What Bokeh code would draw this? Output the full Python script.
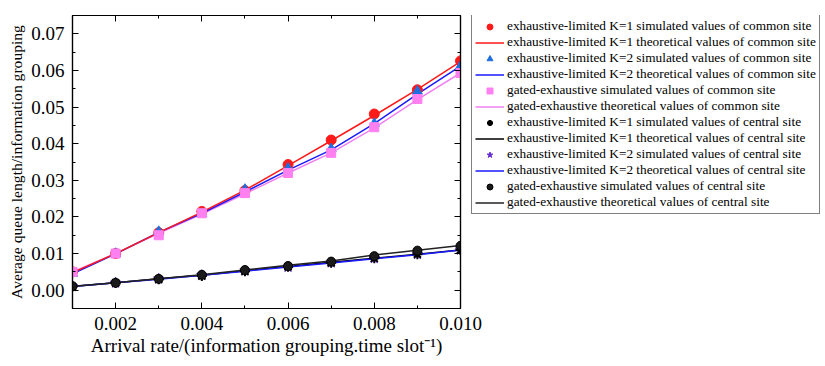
from bokeh.plotting import figure
from bokeh.layouts import row
from bokeh.models import (Range1d, LinearAxis, FixedTicker, NumeralTickFormatter,
                          Legend, LegendItem, ColumnDataSource, CustomJSTickFormatter)
from bokeh.embed import file_html
from bokeh.resources import INLINE

# ---- data ----
arrival_rate = [0.001, 0.002, 0.003, 0.004, 0.005, 0.006, 0.007, 0.008, 0.009, 0.010]

common_k1_sim = [0.0050, 0.0100, 0.0157, 0.0215, 0.0272, 0.0343, 0.0410, 0.0481, 0.0547, 0.0626]
common_k1_theo = [0.0048, 0.0100, 0.0157, 0.0213, 0.0273, 0.0340, 0.0408, 0.0477, 0.0548, 0.0624]
common_k2_sim = [0.0046, 0.0100, 0.0160, 0.0209, 0.0275, 0.0333, 0.0386, 0.0455, 0.0543, 0.0612]
common_k2_theo = [0.0045, 0.0099, 0.0158, 0.0210, 0.0268, 0.0328, 0.0383, 0.0455, 0.0535, 0.0612]
gated_common_sim = [0.0050, 0.0100, 0.0150, 0.0210, 0.0265, 0.0320, 0.0375, 0.0445, 0.0522, 0.0593]
gated_common_theo = [0.0050, 0.0100, 0.0155, 0.0208, 0.0263, 0.0320, 0.0375, 0.0443, 0.0520, 0.0593]

central_k1_sim = [0.0010, 0.0020, 0.0030, 0.0039, 0.0052, 0.0064, 0.0075, 0.0087, 0.0098, 0.0110]
central_k1_theo = [0.0010, 0.0020, 0.0031, 0.0041, 0.0053, 0.0065, 0.0076, 0.0087, 0.0098, 0.0110]
central_k2_sim = [0.0010, 0.0020, 0.0031, 0.0041, 0.0053, 0.0063, 0.0075, 0.0087, 0.0098, 0.0110]
central_k2_theo = [0.0010, 0.0020, 0.0030, 0.0041, 0.0052, 0.0063, 0.0074, 0.0086, 0.0097, 0.0110]
gated_central_sim = [0.0011, 0.0020, 0.0031, 0.0042, 0.0055, 0.0066, 0.0078, 0.0093, 0.0108, 0.0121]
gated_central_theo = [0.0011, 0.0020, 0.0031, 0.0042, 0.0055, 0.0068, 0.0080, 0.0096, 0.0109, 0.0122]

x_major = [0.002, 0.004, 0.006, 0.008, 0.010]
x_minor = [0.001, 0.003, 0.005, 0.007, 0.009]
y_major = [0.00, 0.01, 0.02, 0.03, 0.04, 0.05, 0.06, 0.07]
y_minor = [0.005, 0.015, 0.025, 0.035, 0.045, 0.055, 0.065]

labels = [
    "exhaustive-limited K=1 simulated values of common site",
    "exhaustive-limited K=1 theoretical values of common site",
    "exhaustive-limited K=2 simulated values of common site",
    "exhaustive-limited K=2 theoretical values of common site",
    "gated-exhaustive simulated values of common site",
    "gated-exhaustive theoretical values of common site",
    "exhaustive-limited K=1 simulated values of central site",
    "exhaustive-limited K=1 theoretical values of central site",
    "exhaustive-limited K=2 simulated values of central site",
    "exhaustive-limited K=2 theoretical values of central site",
    "gated-exhaustive simulated values of central site",
    "gated-exhaustive theoretical values of central site",
]

FONT = "Liberation Serif"
OVERLAP = 22

p = figure(output_backend="svg", toolbar_location=None,
           frame_width=388, frame_height=293,
           x_range=Range1d(0.001, 0.010), y_range=Range1d(-0.005, 0.075),
           min_border_left=72, min_border_top=15, min_border_bottom=58,
           min_border_right=OVERLAP,
           background_fill_color="white", border_fill_color="white")
p.grid.visible = False
p.outline_line_color = "black"
p.outline_line_width = 1.2

xt = FixedTicker(ticks=x_major, minor_ticks=x_minor)
yt = FixedTicker(ticks=y_major, minor_ticks=y_minor)
blank = CustomJSTickFormatter(code="return '';")


def style_axis(ax, ticker, fmt, show_labels=True):
    ax.ticker = ticker
    ax.formatter = NumeralTickFormatter(format=fmt) if show_labels else blank
    ax.axis_line_color = "black"
    ax.axis_line_width = 1.2
    ax.major_tick_in = 6
    ax.major_tick_out = 0
    ax.minor_tick_in = 3
    ax.minor_tick_out = 0
    ax.major_tick_line_color = "black"
    ax.minor_tick_line_color = "black"
    ax.major_label_text_font = FONT
    ax.major_label_text_color = "black"
    ax.axis_label_text_font = FONT
    ax.axis_label_text_font_style = "normal"
    ax.axis_label_text_color = "black"
    ax.major_label_text_font_size = "19px"
    ax.major_label_standoff = 8 if show_labels else 0


style_axis(p.xaxis[0], xt, "0.000")
p.xaxis[0].axis_label = "Arrival rate/(information grouping.time slot\u207b\u00b9)"
p.xaxis[0].axis_label_text_font_size = "19px"
p.xaxis[0].axis_label_standoff = 2

style_axis(p.yaxis[0], yt, "0.00")
p.yaxis[0].axis_label = "Average queue length/information grouping"
p.yaxis[0].axis_label_text_font_size = "15.6px"
p.yaxis[0].axis_label_standoff = 3

top_ax = LinearAxis()
style_axis(top_ax, xt, "0.000", show_labels=False)
p.add_layout(top_ax, "above")
right_ax = LinearAxis()
style_axis(right_ax, yt, "0.00", show_labels=False)
p.add_layout(right_ax, "right")

src = ColumnDataSource(dict(
    x=arrival_rate,
    c1s=common_k1_sim, c1t=common_k1_theo,
    c2s=common_k2_sim, c2t=common_k2_theo,
    gcs=gated_common_sim, gct=gated_common_theo,
    z1s=central_k1_sim, z1t=central_k1_theo,
    z2s=central_k2_sim, z2t=central_k2_theo,
    gzs=gated_central_sim, gzt=gated_central_theo,
))

RED = "#ff1a1a"
BLUE = "#1a1aff"
TRI = "#1f6fe0"
PINK = "#ff80f0"
PINKL = "#f080f0"
PURPLE = "#6a2fd0"

marker_styles = {
    "c1s": dict(marker="circle", size=10, fill_color=RED, line_color=RED),
    "c2s": dict(marker="triangle", size=10, fill_color=TRI, line_color=TRI),
    "gcs": dict(marker="square", size=9, fill_color=PINK, line_color=PINK),
    "z2s": dict(marker="star", size=11, fill_color=PURPLE, line_color=PURPLE),
    "z1s": dict(marker="asterisk", size=10, fill_color="black", line_color="black", line_width=2),
    "gzs": dict(marker="circle", size=9, fill_color="#1a1a1a", line_color="black"),
}
line_keys = {"gct": PINKL, "c2t": BLUE, "c1t": RED, "z1t": "black", "z2t": BLUE, "gzt": "#222222"}

# theoretical lines, then simulated markers
for key, col in line_keys.items():
    p.line("x", key, source=src, line_color=col, line_width=1.5)
for key, st in marker_styles.items():
    p.scatter("x", key, source=src, **st)

# ---- legend panel: a second figure whose view range shows none of the data,
# so only its legend (drawn from the same series and styles) is visible ----
p2 = figure(output_backend="svg", toolbar_location=None,
            width=365, height=366, min_border=0,
            x_axis_location=None, y_axis_location=None,
            x_range=Range1d(10, 11), y_range=Range1d(10, 11),
            background_fill_alpha=0, border_fill_alpha=0)
p2.grid.visible = False
p2.outline_line_color = None
try:
    p2.margin = (0, 0, 0, -OVERLAP)
except Exception:
    p2.styles = {"margin-left": f"-{OVERLAP}px"}

order = ["c1s", "c1t", "c2s", "c2t", "gcs", "gct", "z1s", "z1t", "z2s", "z2t", "gzs", "gzt"]
leg_renderers = []
for key in order:
    if key in marker_styles:
        r = p2.scatter("x", key, source=src, **marker_styles[key])
    else:
        r = p2.line("x", key, source=src, line_color=line_keys[key], line_width=1.5)
    leg_renderers.append(r)

items = [LegendItem(label=lab, renderers=[r]) for lab, r in zip(labels, leg_renderers)]
legend = Legend(items=items, location=(11, 94))
legend.label_text_font = FONT
legend.label_text_font_size = "13.3px"
legend.label_text_color = "black"
legend.glyph_width = 29
legend.glyph_height = 15
legend.label_height = 15
legend.label_standoff = 3
legend.spacing = 0
legend.padding = 3
legend.margin = 0
legend.border_line_color = "black"
legend.border_line_width = 1
legend.background_fill_color = "white"
legend.background_fill_alpha = 1.0
p2.add_layout(legend, "center")

layout = row(p, p2, spacing=0)
open("out.html", "w").write(file_html(layout, INLINE))
